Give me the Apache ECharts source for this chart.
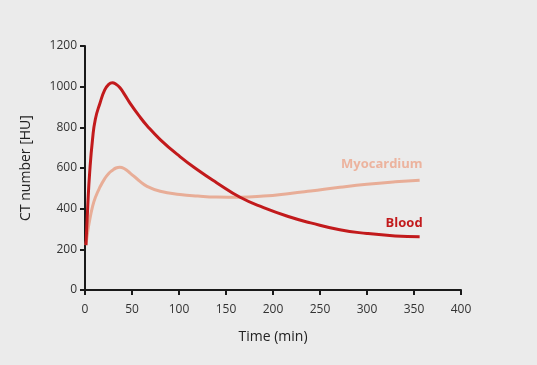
<!DOCTYPE html>
<html><head><meta charset="utf-8">
<script src="https://cdn.jsdelivr.net/npm/echarts@6/dist/echarts.min.js"></script>
<style>html,body{margin:0;padding:0;background:#ebebeb}#c{width:537px;height:365px}</style>
</head><body><div id="c"></div>
<script>
const times = [1, 3, 5, 8, 11, 16, 21, 25, 29, 33, 37, 42, 48, 57, 66, 80, 101, 120, 140, 165, 190, 218, 240, 271, 300, 330, 356];
const blood = [221, 420, 580, 740, 840, 920, 984, 1010, 1019, 1012, 996, 962, 918, 860, 808, 740, 656, 590, 528, 456, 405, 359, 330, 296, 278, 266, 262];
const myocardium = [221, 290, 344, 410, 455, 507, 548, 572, 588, 600, 604, 596, 575, 540, 510, 486, 470, 462, 457, 456, 462, 475, 487, 505, 520, 532, 540];
const xTicks = [0, 50, 100, 150, 200, 250, 300, 350, 400];
const yTicks = [0, 200, 400, 600, 800, 1000, 1200];

const font = '"Open Sans", "Noto Sans", sans-serif';
const chart = echarts.init(document.getElementById('c'));
const pair = arr => times.map((t, i) => [t, arr[i]]);
chart.setOption({
  backgroundColor: '#ebebeb',
  animation: false,
  grid: {left: 85, right: 76, top: 46, bottom: 75},
  xAxis: {
    type: 'value', min: xTicks[0], max: xTicks[xTicks.length - 1], interval: 50,
    name: 'Time (min)', nameLocation: 'middle', nameGap: 40,
    nameTextStyle: {fontFamily: font, fontSize: 14, color: '#222'},
    axisLine: {lineStyle: {color: '#1a1a1a', width: 2}},
    axisTick: {length: 5, lineStyle: {color: '#1a1a1a', width: 2}},
    axisLabel: {fontFamily: font, fontSize: 12, color: '#333', margin: 14, formatter: v => String(v)},
    splitLine: {show: false}
  },
  yAxis: {
    type: 'value', min: yTicks[0], max: yTicks[yTicks.length - 1], interval: 200,
    name: 'CT number [HU]', nameLocation: 'middle', nameGap: 52, nameRotate: 90,
    nameTextStyle: {fontFamily: font, fontSize: 14, color: '#222'},
    axisLine: {show: true, lineStyle: {color: '#1a1a1a', width: 2}},
    axisTick: {show: true, length: 5, lineStyle: {color: '#1a1a1a', width: 2}},
    axisLabel: {fontFamily: font, fontSize: 12, color: '#333', margin: 8, formatter: v => String(v)},
    splitLine: {show: false}
  },
  series: [
    {
      name: 'Myocardium', type: 'line', data: pair(myocardium), smooth: 0.5,
      showSymbol: false, lineStyle: {color: '#e8ad97', width: 3},
      endLabel: {show: true, formatter: '{a}', align: 'right', offset: [-5, -16],
        fontFamily: font, fontSize: 13, fontWeight: 'bold', color: '#ecb39e'}
    },
    {
      name: 'Blood', type: 'line', data: pair(blood), smooth: 0.5,
      showSymbol: false, lineStyle: {color: '#c21a1c', width: 3},
      endLabel: {show: true, formatter: '{a}', align: 'right', offset: [-5, -13],
        fontFamily: font, fontSize: 13, fontWeight: 'bold', color: '#c21a1c'}
    }
  ]
});
</script></body></html>
